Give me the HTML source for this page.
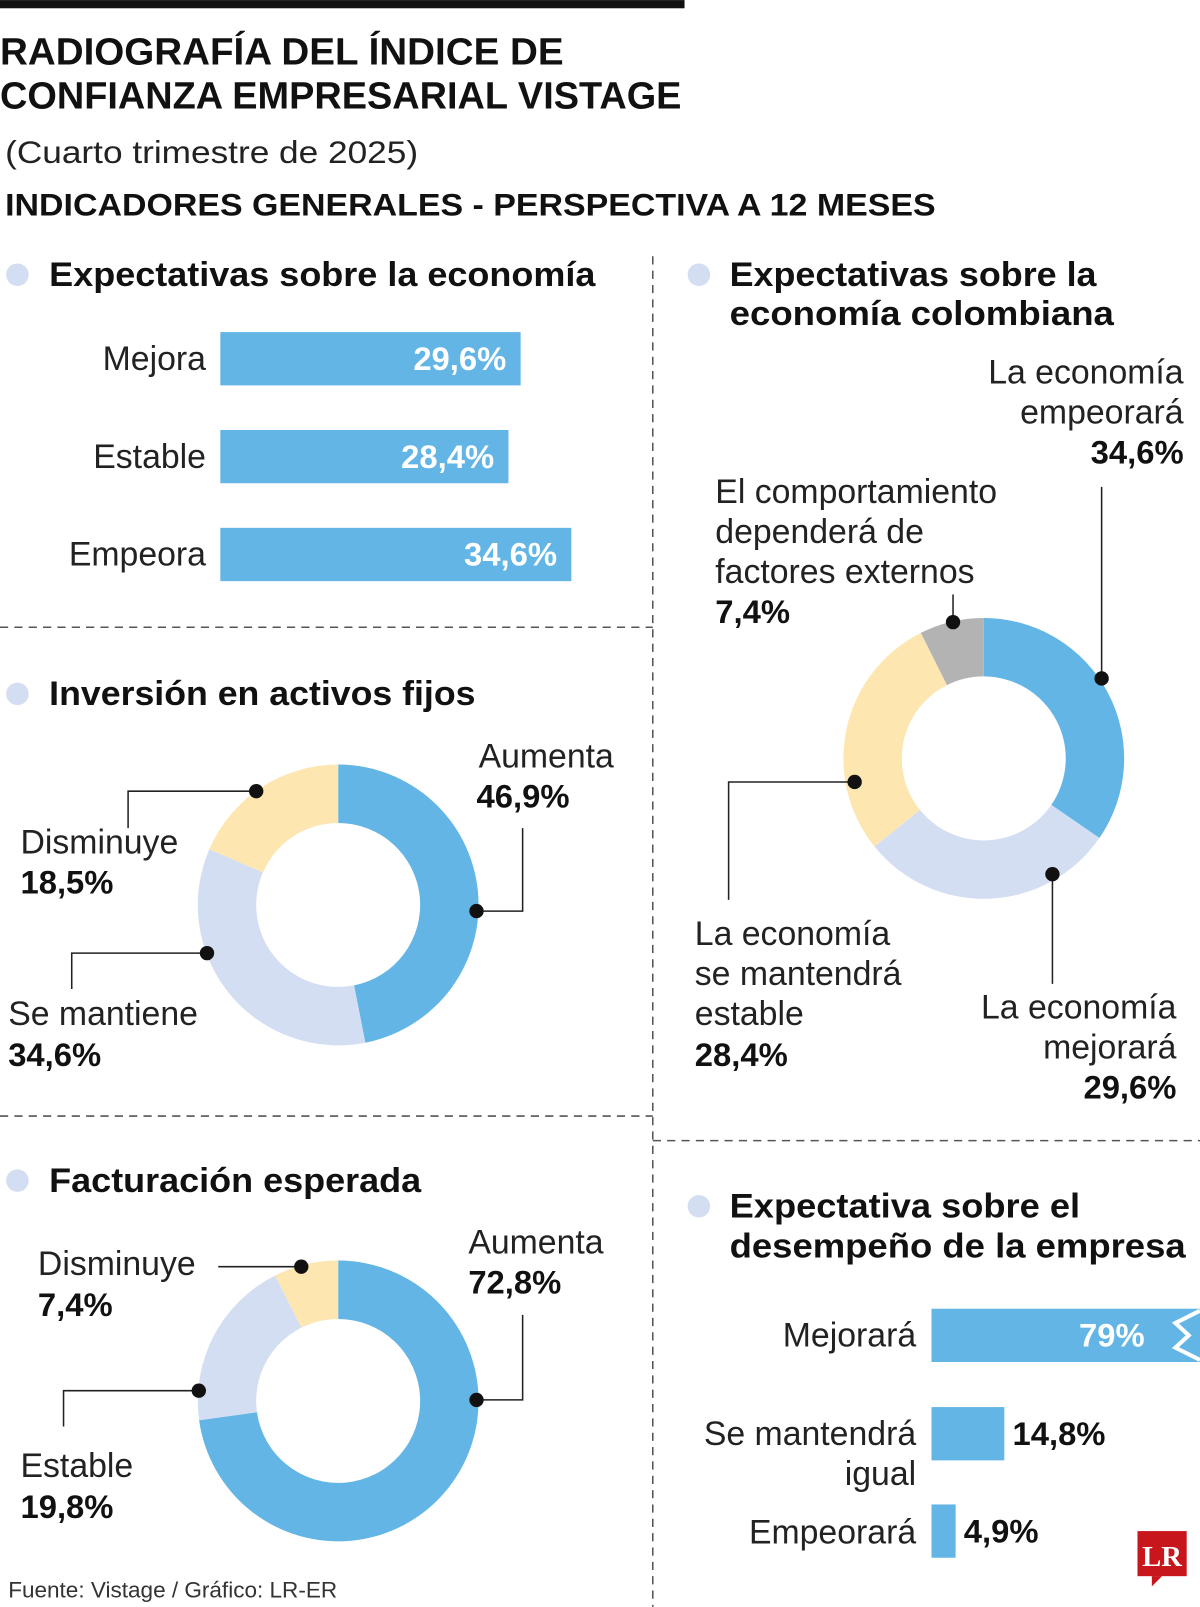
<!DOCTYPE html>
<html><head><meta charset="utf-8"><style>
html,body{margin:0;padding:0;background:#fff;}
svg{display:block;font-family:"Liberation Sans",sans-serif;}
.t{font-size:37px;font-weight:bold;fill:#111;}
.h{font-size:33px;font-weight:bold;fill:#111;}
.l{font-size:33px;fill:#222;}
.v{font-size:32px;font-weight:bold;fill:#111;}
.w{font-size:32px;font-weight:bold;fill:#fff;}
</style></head><body>
<svg id="chart" width="1200" height="1607" viewBox="0 0 1171 1568" xmlns="http://www.w3.org/2000/svg">
<rect x="0" y="0" width="668" height="8" fill="#111"/>
<text class="t" x="0" y="63" textLength="550" lengthAdjust="spacingAndGlyphs">RADIOGRAFÍA DEL ÍNDICE DE</text>
<text class="t" x="0" y="106" textLength="665" lengthAdjust="spacingAndGlyphs">CONFIANZA EMPRESARIAL VISTAGE</text>
<text x="5" y="159" font-size="31" fill="#222" textLength="403" lengthAdjust="spacingAndGlyphs">(Cuarto trimestre de 2025)</text>
<text x="5" y="210" font-size="31" font-weight="bold" fill="#111" textLength="908" lengthAdjust="spacingAndGlyphs">INDICADORES GENERALES - PERSPECTIVA A 12 MESES</text>
<g stroke="#555" stroke-width="1.5" stroke-dasharray="8,6" fill="none">
<line x1="637" y1="250" x2="637" y2="1568"/>
<line x1="0" y1="612" x2="637" y2="612"/>
<line x1="0" y1="1089" x2="637" y2="1089"/>
<line x1="637" y1="1113" x2="1171" y2="1113"/>
</g>
<g>
<circle cx="17" cy="268" r="11" fill="#d4def2"/>
<text class="h" x="48" y="279" textLength="533" lengthAdjust="spacingAndGlyphs">Expectativas sobre la economía</text>
<circle cx="17" cy="677" r="11" fill="#d4def2"/>
<text class="h" x="48" y="688" textLength="416" lengthAdjust="spacingAndGlyphs">Inversión en activos fijos</text>
<circle cx="17" cy="1152" r="11" fill="#d4def2"/>
<text class="h" x="48" y="1163" textLength="363" lengthAdjust="spacingAndGlyphs">Facturación esperada</text>
<circle cx="682" cy="268" r="11" fill="#d4def2"/>
<text class="h" x="712" y="279" textLength="358" lengthAdjust="spacingAndGlyphs">Expectativas sobre la</text>
<text class="h" x="712" y="317" textLength="375" lengthAdjust="spacingAndGlyphs">economía colombiana</text>
<circle cx="682" cy="1177" r="11" fill="#d4def2"/>
<text class="h" x="712" y="1188" textLength="342" lengthAdjust="spacingAndGlyphs">Expectativa sobre el</text>
<text class="h" x="712" y="1227" textLength="445" lengthAdjust="spacingAndGlyphs">desempeño de la empresa</text>
</g>
<g id="g1"></g>
<g id="g2"></g>
<g id="g3"></g>
<g id="g4"></g>
<g id="g5"></g>
<g>
<text class="l" x="467" y="749">Aumenta</text><text class="v" x="465" y="788">46,9%</text>
<text class="l" x="20" y="833">Disminuye</text><text class="v" x="20" y="872">18,5%</text>
<text class="l" x="8" y="1000">Se mantiene</text><text class="v" x="8" y="1040">34,6%</text>
<text class="l" x="457" y="1223">Aumenta</text><text class="v" x="457" y="1262">72,8%</text>
<text class="l" x="37" y="1244">Disminuye</text><text class="v" x="37" y="1284">7,4%</text>
<text class="l" x="20" y="1441">Estable</text><text class="v" x="20" y="1481">19,8%</text>
<text class="l" x="1155" y="374" text-anchor="end">La economía</text>
<text class="l" x="1155" y="413" text-anchor="end">empeorará</text>
<text class="v" x="1155" y="452" text-anchor="end">34,6%</text>
<text class="l" x="698" y="491">El comportamiento</text>
<text class="l" x="698" y="530">dependerá de</text>
<text class="l" x="698" y="569">factores externos</text>
<text class="v" x="698" y="608">7,4%</text>
<text class="l" x="678" y="922">La economía</text>
<text class="l" x="678" y="961">se mantendrá</text>
<text class="l" x="678" y="1000">estable</text>
<text class="v" x="678" y="1040">28,4%</text>
<text class="l" x="1148" y="994" text-anchor="end">La economía</text>
<text class="l" x="1148" y="1033" text-anchor="end">mejorará</text>
<text class="v" x="1148" y="1072" text-anchor="end">29,6%</text>
</g>
<g stroke="#222" stroke-width="1.5" fill="none">
<polyline points="510,808 510,889 465,889"/>
<polyline points="125,808 125,772 250,772"/>
<polyline points="70,965 70,930 202,930"/>
<polyline points="510,1283 510,1366 465,1366"/>
<polyline points="213,1236 294,1236"/>
<polyline points="62,1392 62,1357 194,1357"/>
<polyline points="1075,475 1075,662"/>
<polyline points="930,580 930,607"/>
<polyline points="711,878 711,763 834,763"/>
<polyline points="1027,960 1027,853"/>
</g>
<g fill="#111">
<circle cx="465" cy="889" r="7"/><circle cx="250" cy="772" r="7"/><circle cx="202" cy="930" r="7"/>
<circle cx="465" cy="1366" r="7"/><circle cx="294" cy="1236" r="7"/><circle cx="194" cy="1357" r="7"/>
<circle cx="1075" cy="662" r="7"/><circle cx="930" cy="607" r="7"/><circle cx="834" cy="763" r="7"/><circle cx="1027" cy="853" r="7"/>
</g>
<text x="8" y="1559" font-size="22" fill="#333">Fuente: Vistage / Gráfico: LR-ER</text>
<g>
<rect x="1110" y="1494" width="48" height="44" fill="#c8161d"/>
<polygon points="1124,1538 1134,1538 1124,1548" fill="#c8161d"/>
<text x="1134" y="1528" font-family="Liberation Serif,serif" font-weight="bold" font-size="28" fill="#fff" text-anchor="middle">LR</text>
</g>
</svg>
<script>
var NS='http://www.w3.org/2000/svg';
var econCats=['Mejora','Estable','Empeora'];
var econVals=[29.6,28.4,34.6];
var econLabels=['29,6%','28,4%','34,6%'];
var invCats=['Aumenta','Se mantiene','Disminuye'];
var invVals=[46.9,34.6,18.5];
var billCats=['Aumenta','Estable','Disminuye'];
var billVals=[72.8,19.8,7.4];
var colCats=['Empeorará','Mejorará','Estable','Factores externos'];
var colVals=[34.6,29.6,28.4,7.4];
var compCats=['Mejorará','Se mantendrá igual','Empeorará'];
var compVals=[79,14.8,4.9];
var compLabels=['79%','14,8%','4,9%'];
var BLUE='#62b5e5',LAV='#d4def2',YEL='#fde6b0',GRAY='#b3b3b3';
function mk(tag,at,p){var e=document.createElementNS(NS,tag);for(var k in at)e.setAttribute(k,at[k]);p.appendChild(e);return e;}
var g1=document.getElementById('g1');
function x1(v){return v*9.9;}
econCats.forEach(function(c,i){
 var y=324+i*95.5;
 var r=mk('rect',{x:215,y:y,width:x1(econVals[i]),height:52,fill:BLUE},g1);
 
 
 var t=mk('text',{x:201,y:y+37,'text-anchor':'end','class':'l'},g1);t.textContent=c;
 
 
 var v=mk('text',{x:215+x1(econVals[i])-14,y:y+37,'text-anchor':'end','class':'w'},g1);v.textContent=econLabels[i];
 
 
});
function pt(cx,cy,r,a){return [cx+r*Math.sin(a),cy-r*Math.cos(a)];}
function donut(g,cx,cy,vals,cats,cols){
 var tot=vals.reduce(function(a,b){return a+b;},0),acc=0,R=137,r0=80;
 vals.forEach(function(v,i){
  var a0=acc/tot*2*Math.PI;acc+=v;var a1=acc/tot*2*Math.PI;
  var lg=(a1-a0)>Math.PI?1:0;
  var p1=pt(cx,cy,R,a0),p2=pt(cx,cy,R,a1),p3=pt(cx,cy,r0,a1),p4=pt(cx,cy,r0,a0);
  var d='M'+p1+' A'+R+','+R+' 0 '+lg+' 1 '+p2+' L'+p3+' A'+r0+','+r0+' 0 '+lg+' 0 '+p4+'Z';
  var s=mk('path',{d:d,fill:cols[i]},g);
  
  
 });
}
donut(document.getElementById('g2'),330,883,invVals,invCats,[BLUE,LAV,YEL]);
donut(document.getElementById('g3'),330,1367,billVals,billCats,[BLUE,LAV,YEL]);
donut(document.getElementById('g4'),960,740,colVals,colCats,[BLUE,LAV,YEL,GRAY]);
var g5=document.getElementById('g5');
function x5(v){return v*4.8;}
var ys=[1277,1373,1468];
compCats.forEach(function(c,i){
 var w=Math.min(x5(compVals[i]),1171-909);
 var r=mk('rect',{x:909,y:ys[i],width:w,height:52,fill:BLUE},g5);
 
 
 var v;
 if(x5(compVals[i])>1171-909){
  var z=mk('polyline',{points:'1171,1279 1147,1291 1160,1303 1147,1315 1171,1327',fill:'none',stroke:'#fff','stroke-width':4},g5);
  
  
  v=mk('text',{x:1117,y:ys[i]+37,'text-anchor':'end','class':'w'},g5);v.textContent=compLabels[i];
 } else {
  v=mk('text',{x:909+w+8,y:ys[i]+37,'class':'v'},g5);v.textContent=compLabels[i];
 }
 
 
});
var lbls=[['Mejorará',1314],['Se mantendrá',1410],['igual',1449],['Empeorará',1506]];
lbls.forEach(function(l){var t=mk('text',{x:894,y:l[1],'text-anchor':'end','class':'l'},g5);t.textContent=l[0];
 
 });
</script>
</body></html>
